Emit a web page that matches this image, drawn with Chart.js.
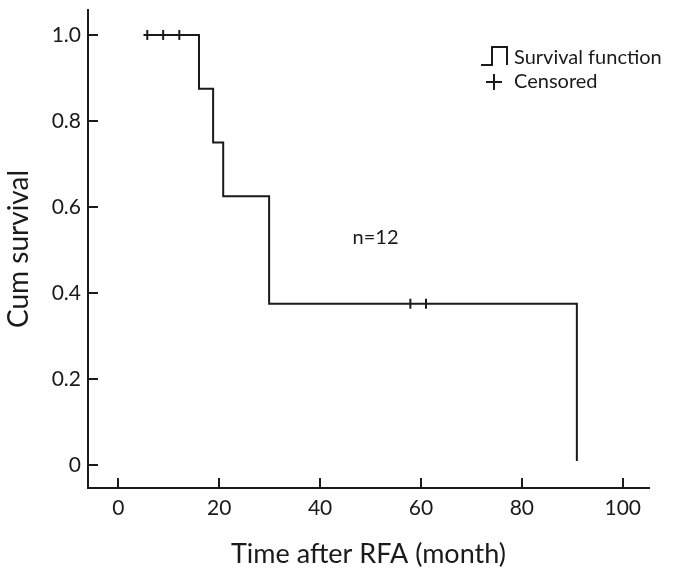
<!DOCTYPE html>
<html>
<head>
<meta charset="utf-8">
<script src="https://cdn.jsdelivr.net/npm/chart.js@4"></script>
<style>
  html, body { margin: 0; padding: 0; background: #fff; }
  #wrap { width: 682px; height: 574px; position: relative; }
</style>
</head>
<body>
<div id="wrap"><canvas id="kmChart"></canvas></div>
<script>
// Kaplan-Meier step curve (time in months, cumulative survival)
var stepTimes = [5.0, 16.0, 18.8, 20.8, 29.9, 90.9];
var stepSurvival = [1.0, 0.875, 0.75, 0.625, 0.375, 0.009];

// censored observations
var censorTimes = [5.75, 8.9, 12.1, 57.9, 61.0];
var censorSurvival = [1.0, 1.0, 1.0, 0.375, 0.375];

var xTicks = [0, 20, 40, 60, 80, 100];
var yTicks = [0, 0.2, 0.4, 0.6, 0.8, 1.0];
var yTickLabels = ['0', '0.2', '0.4', '0.6', '0.8', '1.0'];

var noteText = 'n=12';
var noteAt = { x: 51.0, y: 0.53 };

var legendLabels = ['Survival function', 'Censored'];

var FONT = 'Lato, "Open Sans", sans-serif';
var ink = '#1a1a1a';

var stepData = stepTimes.map(function (t, i) { return { x: t, y: stepSurvival[i] }; });
var censorData = censorTimes.map(function (t, i) { return { x: t, y: censorSurvival[i] }; });

// ticks drawn inward from the axis lines, plus the note and legend
var extras = {
    id: 'extras',
    afterDraw: function (chart) {
        var ctx = chart.ctx;
        var xs = chart.scales.x, ys = chart.scales.y;
        var area = chart.chartArea;
        ctx.save();
        ctx.strokeStyle = ink;
        ctx.lineWidth = 2;
        xTicks.forEach(function (v) {
            var px = Math.round(xs.getPixelForValue(v));
            ctx.beginPath();
            ctx.moveTo(px, area.bottom);
            ctx.lineTo(px, area.bottom - 10);
            ctx.stroke();
        });
        yTicks.forEach(function (v) {
            var py = Math.round(ys.getPixelForValue(v));
            ctx.beginPath();
            ctx.moveTo(area.left, py);
            ctx.lineTo(area.left + 10, py);
            ctx.stroke();
        });

        ctx.fillStyle = ink;
        ctx.font = '20px ' + FONT;
        ctx.textAlign = 'center';
        ctx.textBaseline = 'middle';
        ctx.fillText(noteText, xs.getPixelForValue(noteAt.x), ys.getPixelForValue(noteAt.y));

        // legend
        var lx = area.right - 168, ly = area.top + 48;
        ctx.beginPath();
        ctx.moveTo(lx, ly + 7);
        ctx.lineTo(lx + 11, ly + 7);
        ctx.lineTo(lx + 11, ly - 11);
        ctx.lineTo(lx + 26, ly - 11);
        ctx.lineTo(lx + 26, ly + 7);
        ctx.stroke();
        ctx.beginPath();
        ctx.moveTo(lx + 5, ly + 24);
        ctx.lineTo(lx + 21, ly + 24);
        ctx.moveTo(lx + 13, ly + 16);
        ctx.lineTo(lx + 13, ly + 32);
        ctx.stroke();
        ctx.font = '20px ' + FONT;
        ctx.textAlign = 'left';
        ctx.fillText(legendLabels[0], lx + 33, ly);
        ctx.fillText(legendLabels[1], lx + 33, ly + 24);
        ctx.restore();
    }
};

new Chart(document.getElementById('kmChart').getContext('2d'), {
    type: 'scatter',
    data: {
        datasets: [
            {
                label: legendLabels[0],
                data: stepData,
                showLine: true,
                stepped: 'before',
                borderColor: ink,
                borderWidth: 2,
                pointRadius: 0,
                fill: false
            },
            {
                label: legendLabels[1],
                data: censorData,
                showLine: false,
                pointStyle: 'line',
                rotation: 90,
                pointRadius: 5,
                borderColor: ink,
                borderWidth: 2
            }
        ]
    },
    options: {
        responsive: true,
        maintainAspectRatio: false,
        animation: false,
        layout: { padding: { left: 0, right: 33, top: 10, bottom: 0 } },
        plugins: {
            legend: { display: false },
            tooltip: { enabled: false }
        },
        scales: {
            x: {
                type: 'linear',
                min: -6,
                max: 105.2,
                afterBuildTicks: function (s) { s.ticks = xTicks.map(function (v) { return { value: v }; }); },
                afterFit: function (s) { s.height = 86; s.paddingLeft = 0; s.paddingRight = 0; },
                grid: { drawOnChartArea: false, drawTicks: false },
                border: { display: true, color: ink, width: 2 },
                ticks: { color: ink, padding: 8, font: { family: FONT, size: 21 } },
                title: { display: true, text: 'Time after RFA (month)', color: ink, font: { family: FONT, size: 27 } }
            },
            y: {
                min: -0.0535,
                max: 1.058,
                afterBuildTicks: function (s) { s.ticks = yTicks.map(function (v) { return { value: v }; }); },
                afterFit: function (s) { s.width = 88; s.paddingTop = 0; s.paddingBottom = 0; },
                grid: { drawOnChartArea: false, drawTicks: false },
                border: { display: true, color: ink, width: 2 },
                ticks: {
                    color: ink,
                    padding: 7,
                    font: { family: FONT, size: 21 },
                    callback: function (v) {
                        var i = yTicks.indexOf(v);
                        return i >= 0 ? yTickLabels[i] : '';
                    }
                },
                title: { display: true, text: 'Cum survival', color: ink, padding: { top: 2, bottom: 4 }, font: { family: FONT, size: 28 } }
            }
        }
    },
    plugins: [extras]
});
</script>
</body>
</html>
